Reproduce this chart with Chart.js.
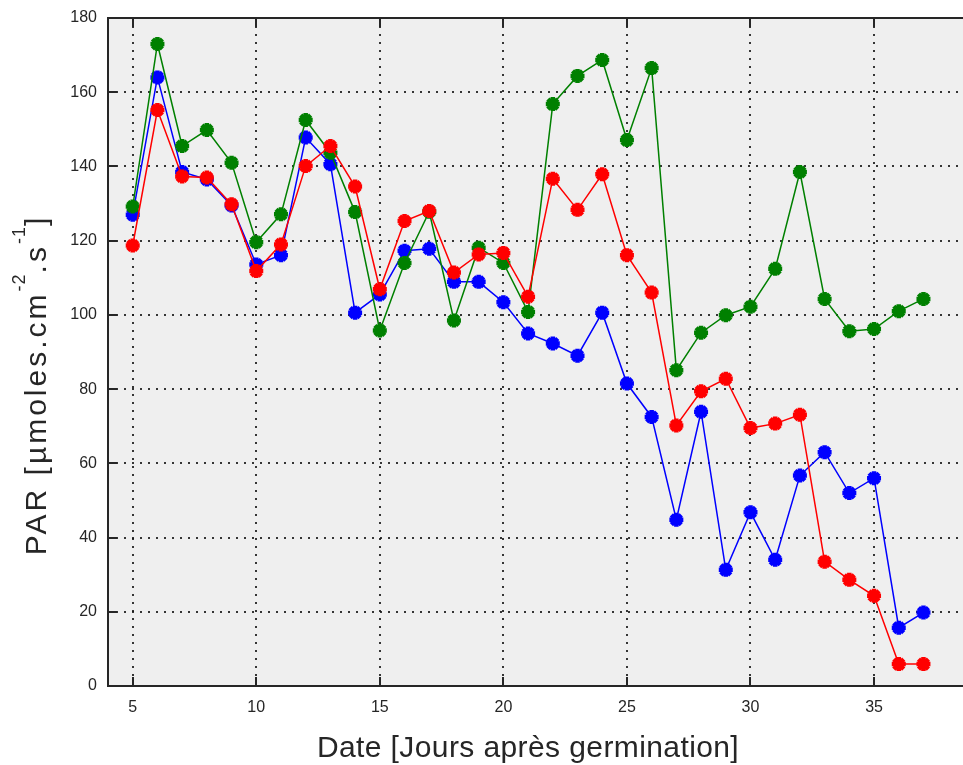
<!DOCTYPE html>
<html>
<head>
<meta charset="utf-8">
<script src="https://cdn.jsdelivr.net/npm/chart.js@4"></script>
<style>
    html, body { margin: 0; padding: 0; background: #fff; overflow: hidden; }
</style>
</head>
<body>
<canvas id="grafico" width="963" height="765"></canvas>
<script>
// Jours après germination
const jours = [5, 6, 7, 8, 9, 10, 11, 12, 13, 14, 15, 16, 17, 18, 19, 20, 21,
    22, 23, 24, 25, 26, 27, 28, 29, 30, 31, 32, 33, 34, 35, 36, 37];

// PAR mesuré (µmoles.cm-2.s-1)
const parBleu = [127, 164, 138.5, 136.5, 129.5, 113.6, 116.1, 147.8, 140.6, 100.6, 105.5, 117.3, 117.8,
    108.9, 108.9, 103.4, 95, 92.3, 89, 100.6, 81.5, 72.5, 44.8, 73.9, 31.3, 46.8, 34, 56.7, 63, 52, 56, 15.7, 19.8];
const parRouge = [118.7, 155.2, 137.3, 137, 129.8, 111.8, 119, 140.1, 145.5, 134.6, 106.9, 125.3, 128,
    111.4, 116.3, 116.7, 104.9, 136.7, 128.3, 137.9, 116.1, 106, 70.2, 79.4, 82.8, 69.5, 70.7, 73.1, 33.5, 28.6, 24.3, 5.9, 5.9];
const parVert = [129.2, 173, 145.5, 149.8, 141, 119.6, 127.1, 152.5, 143.7, 127.7, 95.8, 114, 127.8,
    98.5, 118.1, 114, 100.8, 156.8, 164.4, 168.7, 147.1, 166.5, 85.1, 95.2, 99.9, 102.2, 112.4, 138.5, 104.3, 95.6, 96.2, 101, 104.3];

const ticksX = [5, 10, 15, 20, 25, 30, 35];
const ticksY = [0, 20, 40, 60, 80, 100, 120, 140, 160, 180];

const POLICE = "'Liberation Sans', Arial, sans-serif";

function serie(valeurs, couleur) {
    return {
        data: jours.map((j, i) => ({ x: j, y: valeurs[i] })),
        borderColor: couleur,
        backgroundColor: couleur,
        borderWidth: 1.5,
        pointStyle: 'star',
        pointRadius: 7,
        pointBorderWidth: 4.5,
        pointBorderColor: couleur,
        tension: 0
    };
}

// fond blanc + zone de tracé grise
const fondGraphique = {
    id: 'fondGraphique',
    beforeDraw(chart) {
        const { ctx, chartArea: a } = chart;
        ctx.save();
        ctx.fillStyle = '#fff';
        ctx.fillRect(0, 0, chart.width, chart.height);
        ctx.fillStyle = '#efefef';
        ctx.fillRect(a.left, a.top, a.right - a.left, a.bottom - a.top);
        ctx.restore();
    }
};

function titreY(ctx, cx, cy) {
    const morceaux = [
        { t: 'PAR [µmoles.cm', sup: false },
        { t: '-2', sup: true },
        { t: '.s', sup: false },
        { t: '-1', sup: true },
        { t: ']', sup: false }
    ];
    ctx.save();
    ctx.translate(cx, cy);
    ctx.rotate(-Math.PI / 2);
    ctx.textBaseline = 'alphabetic';
    ctx.textAlign = 'left';
    let total = 0;
    morceaux.forEach(m => {
        ctx.font = (m.sup ? '18px ' : '30px ') + POLICE;
        ctx.letterSpacing = m.sup ? '1px' : '3px';
        m.w = ctx.measureText(m.t).width;
        total += m.w;
    });
    let x = -total / 2;
    morceaux.forEach(m => {
        ctx.font = (m.sup ? '18px ' : '30px ') + POLICE;
        ctx.letterSpacing = m.sup ? '1px' : '3px';
        ctx.fillText(m.t, x, m.sup ? -21 : 0);
        x += m.w;
    });
    ctx.restore();
}

// axes, graduations intérieures et titres
const cadreAxes = {
    id: 'cadreAxes',
    afterDraw(chart) {
        const { ctx, chartArea: a, scales } = chart;
        ctx.save();
        ctx.strokeStyle = '#262626';
        ctx.lineWidth = 2;
        ctx.beginPath();
        ctx.moveTo(a.right, a.top);
        ctx.lineTo(a.left, a.top);
        ctx.lineTo(a.left, a.bottom);
        ctx.lineTo(a.right, a.bottom);
        ticksX.forEach(v => {
            const x = Math.round(scales.x.getPixelForValue(v));
            ctx.moveTo(x, a.bottom);
            ctx.lineTo(x, a.bottom - 9);
            ctx.moveTo(x, a.top);
            ctx.lineTo(x, a.top + 9);
        });
        ticksY.forEach(v => {
            const y = Math.round(scales.y.getPixelForValue(v));
            ctx.moveTo(a.left, y);
            ctx.lineTo(a.left + 9, y);
        });
        ctx.stroke();

        ctx.fillStyle = '#262626';
        ctx.font = '30px ' + POLICE;
        ctx.letterSpacing = '0.4px';
        ctx.textAlign = 'center';
        ctx.textBaseline = 'alphabetic';
        ctx.fillText('Date [Jours après germination]', 528, 757);
        ctx.restore();

        ctx.fillStyle = '#262626';
        titreY(ctx, 46, 385);
    }
};

const grille = {
    display: true,
    drawTicks: false,
    color: 'rgba(20, 20, 20, 0.85)',
    lineWidth: 2
};

new Chart(document.getElementById('grafico').getContext('2d'), {
    type: 'line',
    data: {
        datasets: [
            serie(parRouge, '#ff0000'),
            serie(parVert, '#008000'),
            serie(parBleu, '#0000ff')
        ]
    },
    options: {
        responsive: false,
        animation: false,
        layout: { autoPadding: false, padding: { top: 18, right: 0, left: 0, bottom: 0 } },
        plugins: {
            legend: { display: false },
            tooltip: { enabled: false }
        },
        scales: {
            x: {
                type: 'linear',
                min: 4,
                max: 38.6,
                afterBuildTicks: s => { s.ticks = ticksX.map(v => ({ value: v })); },
                afterFit: s => { s.height = 79; s.paddingLeft = 0; s.paddingRight = 0; },
                grid: grille,
                border: { display: false, dash: [2, 6] },
                ticks: {
                    color: '#262626',
                    padding: 12,
                    maxRotation: 0,
                    font: { family: POLICE, size: 16 }
                }
            },
            y: {
                min: 0,
                max: 180,
                afterBuildTicks: s => { s.ticks = ticksY.map(v => ({ value: v })); },
                afterFit: s => { s.width = 108; s.paddingTop = 0; s.paddingBottom = 0; },
                grid: grille,
                border: { display: false, dash: [2, 6] },
                ticks: {
                    color: '#262626',
                    padding: 11,
                    font: { family: POLICE, size: 16 }
                }
            }
        }
    },
    plugins: [fondGraphique, cadreAxes]
});
</script>
</body>
</html>
